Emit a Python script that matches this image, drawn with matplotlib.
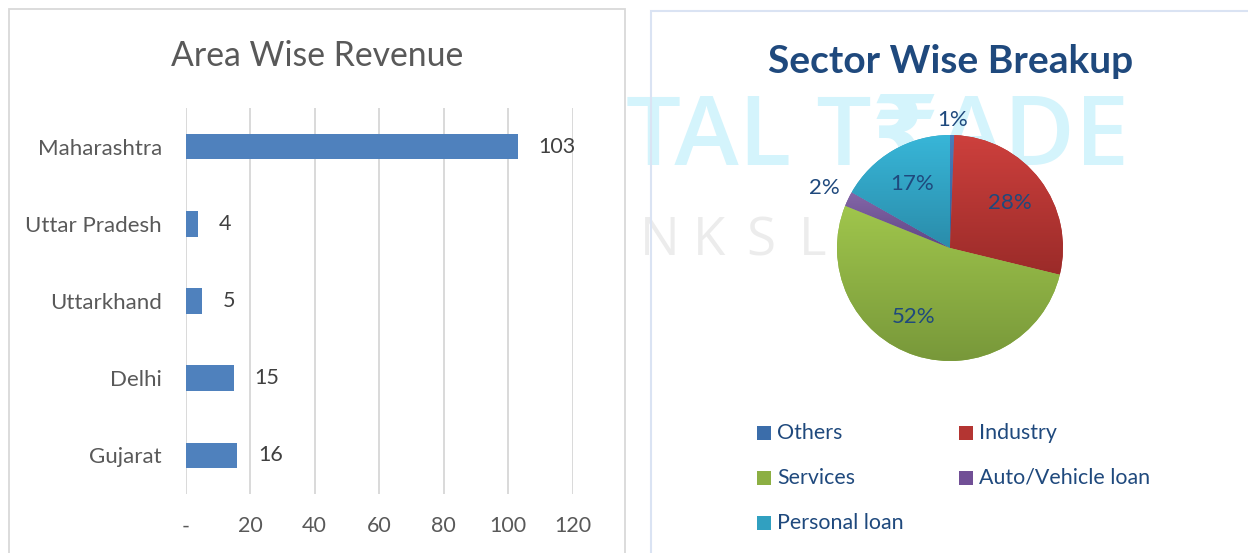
import matplotlib
matplotlib.use("Agg")
import matplotlib.pyplot as plt
import numpy as np
from matplotlib.patches import Rectangle
from matplotlib.colors import LinearSegmentedColormap

plt.rcParams['font.family'] = ['Lato', 'DejaVu Sans']

# data
areas = ['Maharashtra', 'Uttar Pradesh', 'Uttarkhand', 'Delhi', 'Gujarat']
revenue = [103, 4, 5, 15, 16]
x_ticks = [0, 20, 40, 60, 80, 100, 120]
x_tick_labels = ['-', '20', '40', '60', '80', '100', '120']

sectors = ['Others', 'Industry', 'Services', 'Auto/Vehicle loan', 'Personal loan']
share = [0.6, 28.2, 52.3, 2.1, 16.8]

# style
grad_top = ['#4a7ebb', '#cd403d', '#a0c64c', '#8466a8', '#38b6d8']
grad_bot = ['#2c5d98', '#9b2b29', '#78983a', '#5f4684', '#2a8caa']
legend_col = ['#3b6daa', '#b43532', '#8caf43', '#714f96', '#31a0c0']
label_r = [1.13, 0.66, 0.69, 1.23, 0.66]
label_turn = [0, 0, -10, 0, 0]   # degrees

W, H = 1248, 553
fig = plt.figure(figsize=(W / 100, H / 100), dpi=100)

def fx(px):
    return px / W

def fy(py):
    return 1 - py / H

# watermark (only the part that shows beside the left panel)
fig.text(fx(626), fy(165), 'TAL T\u20b9ADE', family=['Open Sans', 'DejaVu Sans'],
         fontweight='semibold', color='#d4f4fc', fontsize=70,
         ha='left', va='baseline', zorder=-3)
for k, ch in enumerate('NKSLTD'):
    fig.text(fx(640 + 53 * k), fy(255), ch, family=['Open Sans', 'DejaVu Sans'],
             color='#ececec', fontsize=38, ha='left', va='baseline', zorder=-3)

# panels
fig.add_artist(Rectangle((fx(9), -0.1), fx(625) - fx(9), fy(9.5) + 0.1,
                         transform=fig.transFigure, facecolor='white',
                         edgecolor='#d9d9d9', lw=1.3, zorder=-1))
fig.add_artist(Rectangle((fx(650.5), -0.1), 1, fy(10.5) + 0.1,
                         transform=fig.transFigure, fill=False,
                         edgecolor='#dae3f3', lw=1.5, zorder=-1))

# ---- bar chart ----
ax = fig.add_axes([fx(185.5), fy(494), (572.5 - 185.5) / W, (494 - 108) / H])
ax.set_facecolor('none')
y = np.arange(len(areas))
bars = ax.barh(y, revenue, height=0.33, color='#4f81bd')
ax.set_ylim(len(areas) - 0.5, -0.5)
ax.set_xlim(0, 120)
ax.set_xticks(x_ticks, x_tick_labels)
ax.set_yticks(y, areas)
ax.grid(axis='x', color='#d9d9d9', lw=1.4)
ax.set_axisbelow(True)
for s in ax.spines.values():
    s.set_visible(False)
ax.tick_params(axis='y', length=0, pad=17, labelsize=16, labelcolor='#595959')
ax.tick_params(axis='x', length=0, pad=16, labelsize=15.5, labelcolor='#595959')
ax.bar_label(bars, padding=15, fontsize=15.5, color='#404040')
fig.text(fx(317), fy(66), 'Area Wise Revenue', fontsize=24.3, color='#595959',
         ha='center', va='baseline')

# ---- pie chart ----
pax = fig.add_axes([fx(837), fy(361), 226 / W, 226 / H])
pax.set_facecolor('none')
wedges, _ = pax.pie(share, startangle=90, counterclock=False,
                    colors=legend_col, wedgeprops=dict(linewidth=0))
grad = np.linspace(0, 1, 256).reshape(-1, 1)
for i, w in enumerate(wedges):
    bb = w.get_path().get_extents()
    cmap = LinearSegmentedColormap.from_list('g%d' % i, [grad_top[i], grad_bot[i]])
    im = pax.imshow(grad, extent=(bb.x0, bb.x1, bb.y0, bb.y1), origin='upper',
                    cmap=cmap, aspect='auto', zorder=w.get_zorder() + 0.1)
    im.set_clip_path(w)
    mid = np.deg2rad((w.theta1 + w.theta2) / 2 + label_turn[i])
    pax.text(label_r[i] * np.cos(mid), label_r[i] * np.sin(mid),
             '%.0f%%' % share[i], ha='center', va='center', fontsize=16,
             color='#1f497d', zorder=5)
pax.set_xlim(-1, 1)
pax.set_ylim(-1, 1)
pax.set_aspect('equal')
pax.axis('off')

fig.text(fx(950.5), fy(73), 'Sector Wise Breakup', fontsize=28, fontweight='bold',
         color='#1f497d', ha='center', va='baseline')

# legend, two columns filled row by row
for i, name in enumerate(sectors):
    row, col = divmod(i, 2)
    sx = 757 + col * 202
    sy = 433 + row * 45
    fig.add_artist(Rectangle((fx(sx), fy(sy + 7)), 14 / W, 14 / H,
                             transform=fig.transFigure, facecolor=legend_col[i],
                             edgecolor='none'))
    fig.text(fx(sx + 20), fy(sy), name, fontsize=15.4, color='#1f497d',
             ha='left', va='center')

fig.savefig('out.png', dpi=100)
